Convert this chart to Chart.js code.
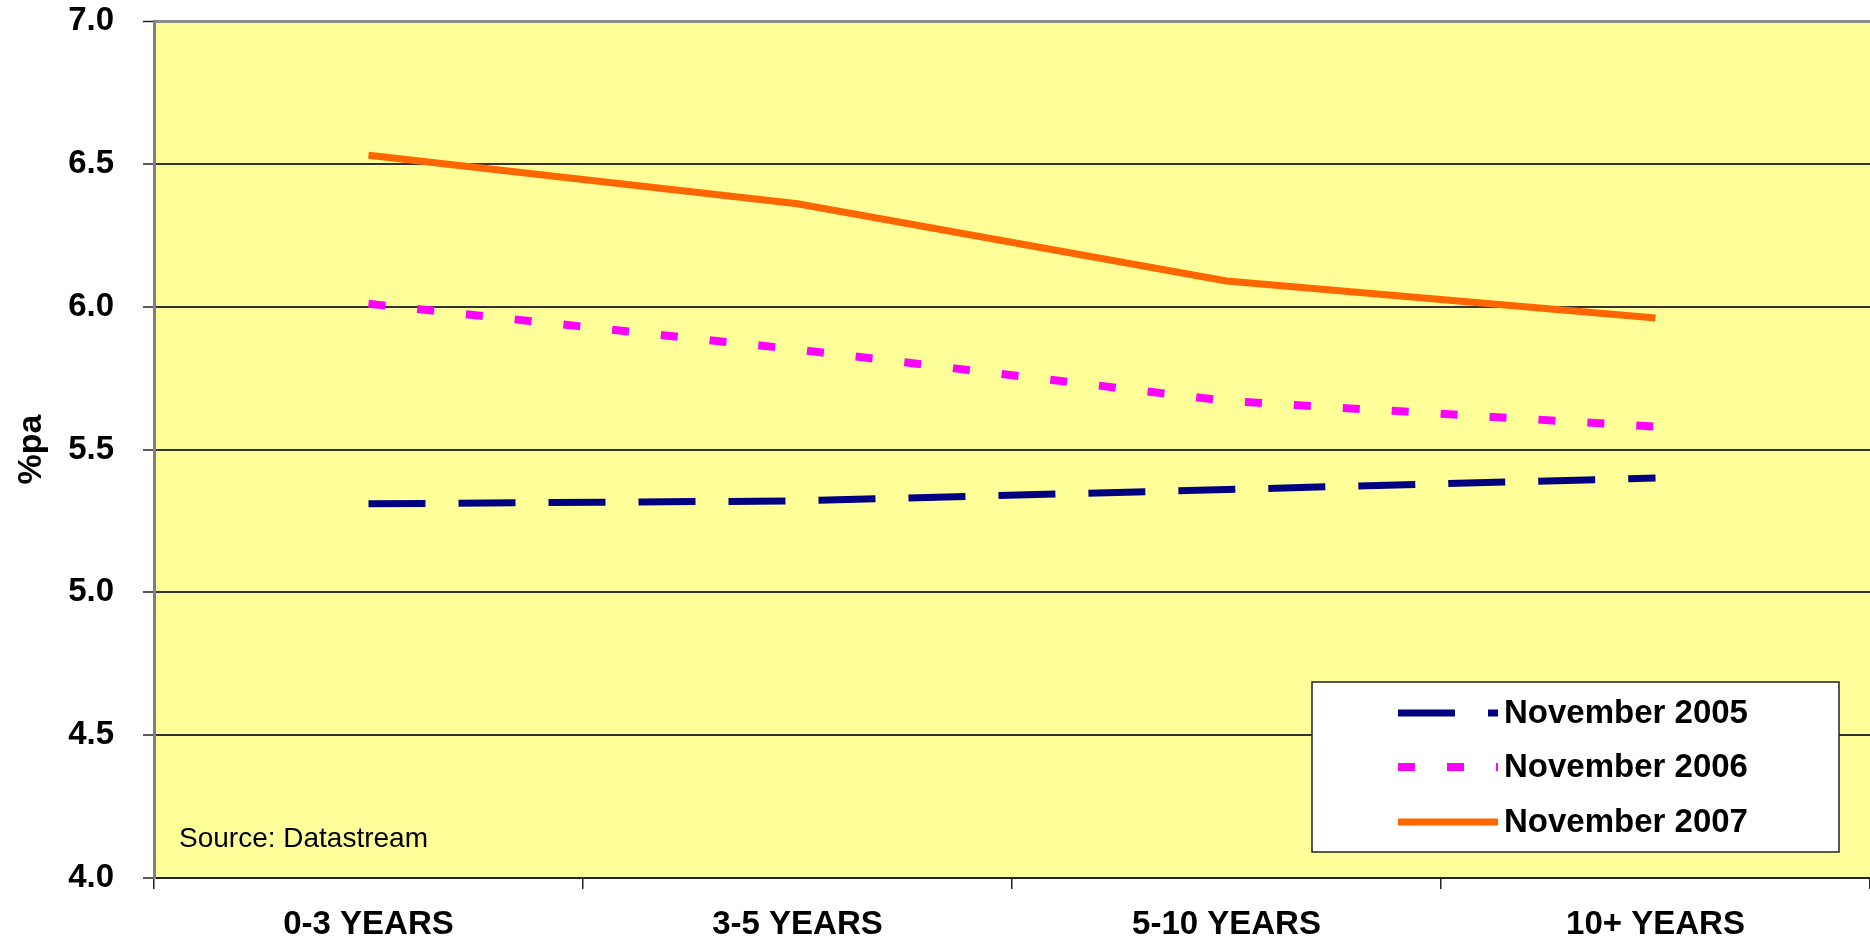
<!DOCTYPE html>
<html>
<head>
<meta charset="utf-8">
<script src="https://cdn.jsdelivr.net/npm/chart.js@4/dist/chart.umd.min.js"></script>
<style>
  html, body { margin: 0; padding: 0; background: #fff; }
  #wrap { width: 1870px; height: 941px; }
</style>
</head>
<body>
<div id="wrap"><canvas id="chart" width="1870" height="941"></canvas></div>
<script>
// catégories et séries
const categories = ['0-3 YEARS', '3-5 YEARS', '5-10 YEARS', '10+ YEARS'];
const nov2005 = [5.31, 5.32, 5.36, 5.40];
const nov2006 = [6.01, 5.85, 5.67, 5.58];
const nov2007 = [6.53, 6.36, 6.09, 5.96];
const seriesLabels = ['November 2005', 'November 2006', 'November 2007'];
const yTicks = [4.0, 4.5, 5.0, 5.5, 6.0, 6.5, 7.0];

const FONT = "'Liberation Sans', Arial, sans-serif";

// fond jaune de la zone de tracé
const bgPlugin = {
  id: 'bgPlugin',
  beforeDraw(chart) {
    const { ctx, chartArea } = chart;
    ctx.save();
    ctx.fillStyle = '#ffff99';
    ctx.fillRect(chartArea.left, chartArea.top, chartArea.right - chartArea.left, chartArea.bottom - chartArea.top);
    ctx.restore();
  }
};

// légende dans la zone du graphique + source
const legendBox = {
  id: 'legendBox',
  afterDatasetsDraw(chart) {
    const ctx = chart.ctx;
    ctx.save();
    // source
    ctx.fillStyle = '#000';
    ctx.font = '28px ' + FONT;
    ctx.textBaseline = 'middle';
    ctx.textAlign = 'left';
    ctx.fillText('Source: Datastream', 179, 839);

    // boîte
    ctx.fillStyle = '#fff';
    ctx.fillRect(1312, 682, 527, 170);
    ctx.strokeStyle = '#222';
    ctx.lineWidth = 1.5;
    ctx.strokeRect(1312, 682, 527, 170);

    const rows = [713, 767, 822];
    chart.data.datasets.forEach((ds, i) => {
      const y = rows[i];
      ctx.beginPath();
      ctx.setLineDash(ds.borderDash || []);
      ctx.lineCap = 'butt';
      ctx.strokeStyle = ds.borderColor;
      ctx.lineWidth = ds.borderWidth;
      ctx.moveTo(1398, y);
      ctx.lineTo(1498, y);
      ctx.stroke();
      ctx.setLineDash([]);
      ctx.fillStyle = '#000';
      ctx.font = 'bold 33px ' + FONT;
      ctx.textBaseline = 'middle';
      ctx.fillText(ds.label, 1504, y + 1);
    });
    ctx.restore();
  }
};

const ctx = document.getElementById('chart').getContext('2d');
new Chart(ctx, {
  type: 'line',
  data: {
    labels: categories,
    datasets: [
      {
        label: seriesLabels[0],
        data: nov2005,
        borderColor: '#000080',
        borderWidth: 7,
        borderDash: [57, 33],
        pointRadius: 0,
        tension: 0,
        fill: false
      },
      {
        label: seriesLabels[1],
        data: nov2006,
        borderColor: '#ff00ff',
        borderWidth: 8,
        borderDash: [17, 32],
        pointRadius: 0,
        tension: 0,
        fill: false
      },
      {
        label: seriesLabels[2],
        data: nov2007,
        borderColor: '#ff6600',
        borderWidth: 7,
        pointRadius: 0,
        tension: 0,
        fill: false
      }
    ]
  },
  options: {
    responsive: false,
    animation: false,
    layout: { padding: { top: 21, right: 0, left: 0, bottom: 0 } },
    plugins: {
      legend: { display: false },
      tooltip: { enabled: false }
    },
    scales: {
      x: {
        type: 'category',
        offset: true,
        grid: {
          offset: true,
          drawOnChartArea: false,
          drawTicks: true,
          tickLength: 11,
          color: '#222',
          lineWidth: 1.5
        },
        border: { color: '#222', width: 2 },
        ticks: {
          color: '#000',
          padding: 16,
          maxRotation: 0,
          font: { family: FONT, size: 33, weight: 'bold' }
        },
        afterFit(scale) { scale.height = 63; scale.paddingLeft = 0; scale.paddingRight = 0; }
      },
      y: {
        min: yTicks[0],
        max: yTicks[yTicks.length - 1],
        afterBuildTicks(scale) { scale.ticks = yTicks.map(v => ({ value: v })); },
        grid: {
          color: c => (c.tick && c.tick.value === 7 ? '#8c8c8c' : '#333'),
          lineWidth: c => (c.tick && c.tick.value === 7 ? 3 : 2),
          tickLength: 11,
          tickColor: '#222',
          tickWidth: 1.5
        },
        border: { color: '#808080', width: 3 },
        ticks: {
          color: '#000',
          padding: 29,
          font: { family: FONT, size: 33, weight: 'bold' },
          callback: v => Number(v).toFixed(1)
        },
        title: {
          display: true,
          text: '%pa',
          color: '#000',
          padding: { top: 11, bottom: 0 },
          font: { family: FONT, size: 34, weight: 'bold' }
        },
        afterFit(scale) { scale.width = 154; scale.paddingTop = 0; scale.paddingBottom = 0; }
      }
    }
  },
  plugins: [bgPlugin, legendBox]
});
</script>
</body>
</html>
